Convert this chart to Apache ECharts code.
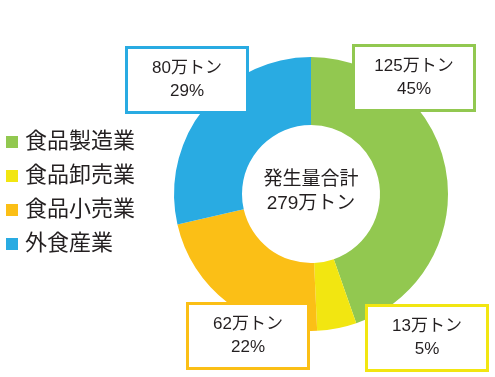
<!DOCTYPE html>
<html>
<head>
<meta charset="utf-8">
<script src="https://cdn.jsdelivr.net/npm/echarts@6/dist/echarts.min.js"></script>
<style>html,body{margin:0;padding:0;background:#fff}#c{width:495px;height:377px}</style>
</head>
<body>
<div id="c"></div>
<script>
const categories = ['食品製造業', '食品卸売業', '食品小売業', '外食産業'];
const values = [125, 13, 62, 80];
const percents = [45, 5, 22, 29];
const totalValue = 279;
const unit = '万トン';
const centerTitle = '発生量合計';

const colors = ['#92C850', '#F2E611', '#FBBF16', '#29ABE2'];
const labelSpots = [[414, 78], [427, 338], [248, 336], [187, 80]];
const FONT = '"Liberation Sans", "Noto Sans CJK JP", sans-serif';

const chart = echarts.init(document.getElementById('c'), null, {renderer: 'canvas'});
chart.setOption({
  animation: false,
  color: colors,
  legend: {
    orient: 'vertical',
    left: 6,
    top: 130,
    padding: 0,
    itemWidth: 12,
    itemHeight: 12,
    itemGap: 10,
    icon: 'rect',
    textStyle: {fontFamily: FONT, fontSize: 22, lineHeight: 24, color: '#231F20', padding: [0, 0, 0, 2]},
    data: categories
  },
  graphic: [{
    type: 'text',
    x: 311, y: 192,
    style: {
      text: centerTitle + '\n' + totalValue + unit,
      font: '19px ' + FONT,
      lineHeight: 24,
      fill: '#231F20',
      textAlign: 'center',
      textVerticalAlign: 'middle'
    },
    z: 10
  }],
  series: [{
    type: 'pie',
    center: [311, 194],
    radius: [69, 137],
    startAngle: 90,
    clockwise: true,
    avoidLabelOverlap: false,
    labelLine: {show: false},
    label: {
      show: true,
      position: 'outside',
      formatter: p => p.value + unit + '\n' + percents[p.dataIndex] + '%',
      fontFamily: FONT,
      fontSize: 17,
      lineHeight: 23,
      color: '#231F20',
      backgroundColor: '#fff',
      borderWidth: 3,
      width: 110,
      align: 'center',
      padding: [8, 4]
    },
    labelLayout: p => ({
      x: labelSpots[p.dataIndex][0],
      y: labelSpots[p.dataIndex][1],
      align: 'center',
      verticalAlign: 'middle'
    }),
    emphasis: {disabled: true},
    data: categories.map((n, i) => ({
      name: n,
      value: values[i],
      label: {borderColor: colors[i]}
    }))
  }]
});
</script>
</body>
</html>
